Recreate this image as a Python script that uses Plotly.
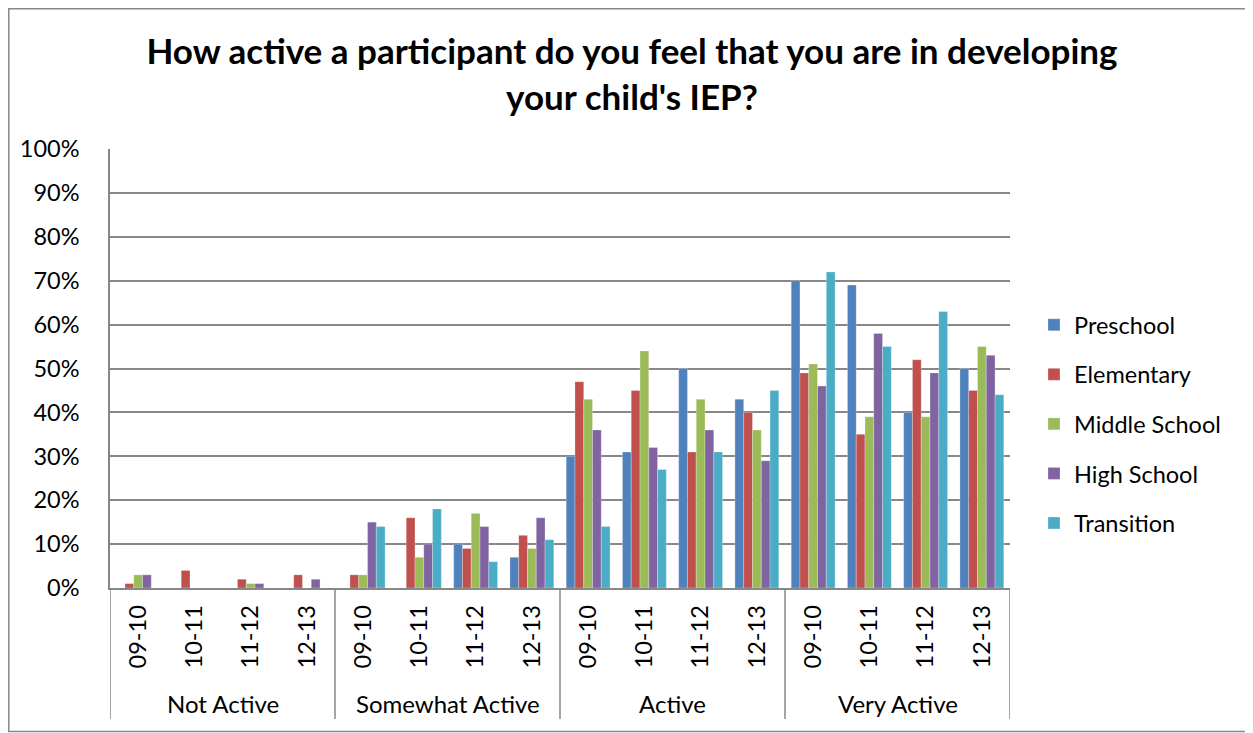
import plotly.graph_objects as go

groups = ["Not Active", "Somewhat Active", "Active", "Very Active"]
years = ["09-10", "10-11", "11-12", "12-13"]
series_names = ["Preschool", "Elementary", "Middle School", "High School", "Transition"]
colors = ["#4F81BD", "#C0504D", "#9BBB59", "#8064A2", "#4BACC6"]

# values in % ; order: Not Active (4 years), Somewhat Active, Active, Very Active
preschool = [0, 0, 0, 0, 0, 0, 10, 7, 30, 31, 50, 43, 70, 69, 40, 50]
elementary = [1, 4, 2, 3, 3, 16, 9, 12, 47, 45, 31, 40, 49, 35, 52, 45]
middle = [3, 0, 1, 0, 3, 7, 17, 9, 43, 54, 43, 36, 51, 39, 39, 55]
high = [3, 0, 1, 2, 15, 10, 14, 16, 36, 32, 36, 29, 46, 58, 49, 53]
transition = [0, 0, 0, 0, 14, 18, 6, 11, 14, 27, 31, 45, 72, 55, 63, 44]
values = [preschool, elementary, middle, high, transition]

ytick_vals = [0, 10, 20, 30, 40, 50, 60, 70, 80, 90, 100]
ytick_text = [f"{v}%" for v in ytick_vals]

xpos = list(range(len(groups) * len(years)))
xtext = [y for g in groups for y in years]

FONT = "Lato, 'Open Sans', sans-serif"

fig = go.Figure()
for name, col, vals in zip(series_names, colors, values):
    fig.add_trace(go.Bar(
        x=xpos, y=vals, name=name, legendgroup=name,
        marker=dict(color=col, line=dict(color="rgba(255,255,255,0.45)", width=0.6)),
    ))

# The page body has an 8px margin, so figure coords = page coords - 8.
OFF = 8
W, HGT = 1253 - OFF, 733 - OFF
L, R, T, B = 110 - OFF, 1010 - OFF, 149 - OFF, 588 - OFF
PW, PH = R - L, B - T

def py(page_y):
    return (B - (page_y - OFF)) / PH

def px(page_x):
    return ((page_x - OFF) - L) / PW

shapes = []
n = len(years)
for k in range(len(groups) + 1):
    shapes.append(dict(type="line", xref="x", yref="paper",
                       x0=k * n - 0.5, x1=k * n - 0.5, y0=0, y1=py(719),
                       line=dict(color="#878787", width=1.5)))
# outer chart border
shapes.append(dict(type="rect", xref="paper", yref="paper",
                   x0=px(8.8), x1=px(1262), y0=py(731.5), y1=py(8.8),
                   line=dict(color="#878787", width=1.5), fillcolor="rgba(0,0,0,0)"))

annotations = []
for k, g in enumerate(groups):
    annotations.append(dict(x=k * n + (n - 1) / 2, y=py(703), xref="x", yref="paper",
                            text=g, showarrow=False, xanchor="center", yanchor="middle",
                            font=dict(family=FONT, size=24, color="#000000")))

fig.update_layout(
    width=W, height=HGT,
    margin=dict(l=L, r=W - R, t=T, b=HGT - B),
    paper_bgcolor="white", plot_bgcolor="white",
    barmode="group", bargap=0.22, bargroupgap=0,
    title=dict(text="<b>How active a participant do you feel that you are in developing<br>your child's IEP?</b>",
               x=(632 - OFF) / W, xref="container", xanchor="center",
               y=1 - (64 - OFF) / HGT, yref="container", yanchor="middle",
               font=dict(family=FONT, size=35, color="#000000")),
    font=dict(family=FONT, size=22, color="#000000"),
    legend=dict(x=px(1034), xanchor="left", y=py(424), yanchor="middle",
                tracegroupgap=16, itemwidth=30, font=dict(family=FONT, size=23.5),
                bgcolor="rgba(0,0,0,0)", itemclick=False),
    shapes=shapes, annotations=annotations,
    showlegend=True,
)
fig.update_xaxes(range=[-0.5, len(xpos) - 0.5], tickmode="array", tickvals=xpos, ticktext=xtext,
                 tickangle=-90, showgrid=False, showline=True, linecolor="#878787", linewidth=1.5,
                 ticks="", ticklabelstandoff=6, tickfont=dict(family=FONT, size=23.5),
                 zeroline=False, fixedrange=True)
fig.update_yaxes(range=[0, 100], tickmode="array", tickvals=ytick_vals, ticktext=ytick_text,
                 showgrid=True, gridcolor="#878787", gridwidth=1.5,
                 showline=True, linecolor="#878787", linewidth=1.5, ticks="",
                 ticklabelstandoff=24, tickfont=dict(family=FONT, size=23.5),
                 zeroline=False, fixedrange=True)

fig.write_html("out.html")
